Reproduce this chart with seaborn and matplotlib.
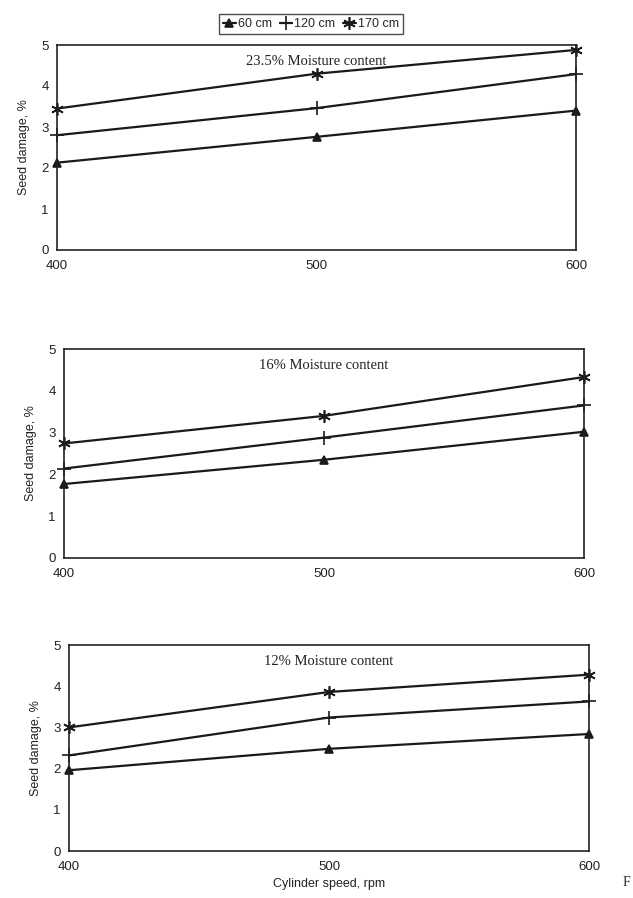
import matplotlib
matplotlib.use("Agg")
import matplotlib.pyplot as plt
import seaborn as sns
import pandas as pd

speeds = [400, 500, 600]
heights = ["60 cm", "120 cm", "170 cm"]
panel_titles = ["23.5% Moisture content", "16% Moisture content", "12% Moisture content"]

# seed damage (%) per panel, per drop height
damage_235 = {"60 cm": [2.13, 2.76, 3.40], "120 cm": [2.80, 3.46, 4.29], "170 cm": [3.45, 4.30, 4.88]}
damage_16 = {"60 cm": [1.77, 2.35, 3.02], "120 cm": [2.14, 2.88, 3.65], "170 cm": [2.74, 3.40, 4.33]}
damage_12 = {"60 cm": [1.96, 2.48, 2.84], "120 cm": [2.32, 3.24, 3.63], "170 cm": [3.00, 3.86, 4.28]}
panels = [damage_235, damage_16, damage_12]

markers = {"60 cm": "^", "120 cm": "+", "170 cm": (6, 2, 0)}
msizes = {"60 cm": 6, "120 cm": 10, "170 cm": 9}


def make_frame(d):
    rows = []
    for h in heights:
        for s, v in zip(speeds, d[h]):
            rows.append({"speed": s, "damage": v, "height": h})
    return pd.DataFrame(rows)


sns.set_style("white")
plt.rcParams["font.family"] = ["Liberation Sans", "DejaVu Sans"]

fig = plt.figure(figsize=(6.33, 8.98), dpi=100)
W, H = 633.0, 898.0
boxes = [(57, 45, 576, 250), (64, 349, 584, 558), (69, 645, 589, 851)]

axes = []
for (x0, y0, x1, y1), d, title in zip(boxes, panels, panel_titles):
    ax = fig.add_axes([x0 / W, 1 - y1 / H, (x1 - x0) / W, (y1 - y0) / H])
    df = make_frame(d)
    for h in heights:
        sub = df[df["height"] == h]
        sns.lineplot(data=sub, x="speed", y="damage", ax=ax, color="#1a1a1a",
                     linewidth=1.6, marker=markers[h], markersize=msizes[h],
                     markeredgecolor="#1a1a1a", markeredgewidth=1.2, label=h,
                     legend=False, clip_on=False)
    ax.set_xlim(400, 600)
    ax.set_ylim(0, 5)
    ax.set_xticks(speeds)
    ax.set_yticks([0, 1, 2, 3, 4, 5])
    ax.tick_params(axis="y", length=0, labelsize=9.5, colors="#222222", pad=6)
    ax.tick_params(axis="x", length=0, labelsize=9.5, colors="#222222", pad=7)
    for sp in ax.spines.values():
        sp.set_color("#222222")
        sp.set_linewidth(1.2)
    ax.set_xlabel("")
    ax.set_ylabel("Seed damage, %", fontsize=9, color="#222222", labelpad=8)
    ax.text(0.5, 0.95, title, transform=ax.transAxes, ha="center", va="top",
            fontsize=10.5, family=["Liberation Serif", "DejaVu Serif"], color="#222222")
    axes.append(ax)

axes[2].set_xlabel("Cylinder speed, rpm", fontsize=9, color="#222222", labelpad=4)

handles, labels = axes[0].get_legend_handles_labels()
leg = fig.legend(handles, labels, loc="center", bbox_to_anchor=(311 / W, 1 - 24 / H),
                 ncol=3, frameon=True, fontsize=9, handlelength=1.0,
                 columnspacing=0.6, handletextpad=0.2, borderpad=0.3, fancybox=False)
leg.get_frame().set_edgecolor("#222222")
leg.get_frame().set_linewidth(1.0)

fig.text(626 / W, 1 - 883 / H, "F", fontsize=10, ha="center", va="center",
         family=["Liberation Serif", "DejaVu Serif"])

fig.savefig("out.png", dpi=100)
